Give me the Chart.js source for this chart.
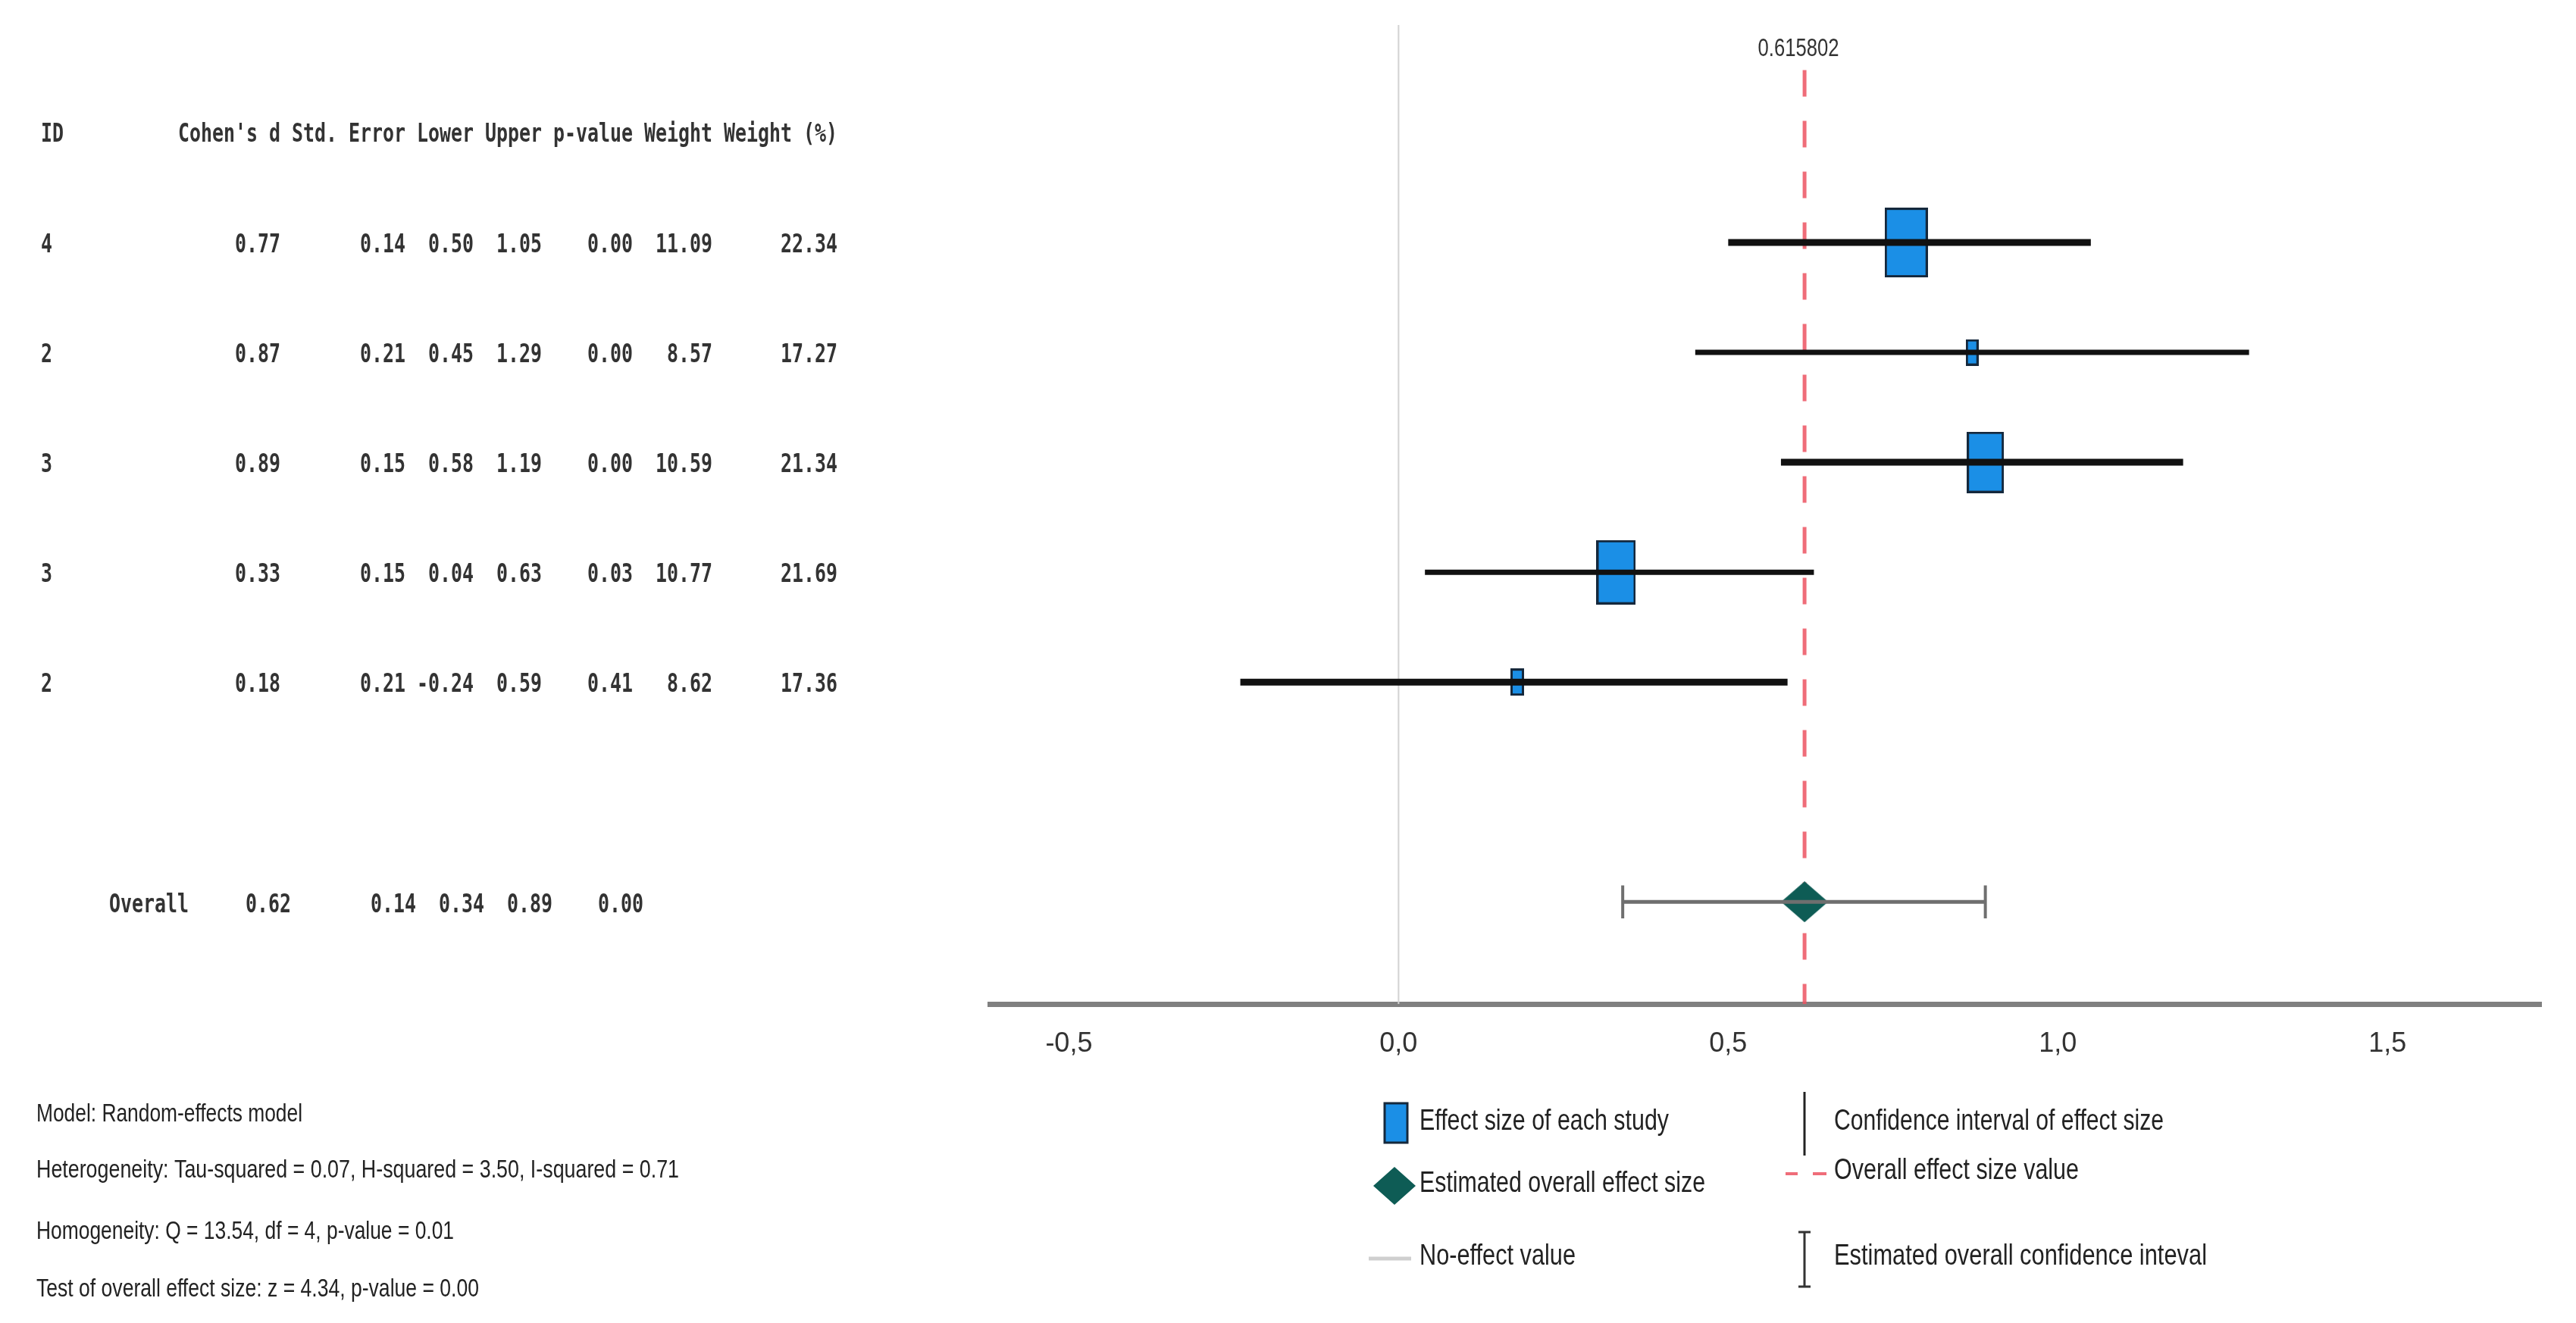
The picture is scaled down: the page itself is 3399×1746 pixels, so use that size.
<!DOCTYPE html>
<html>
<head>
<meta charset="utf-8">
<title>Forest plot</title>
<script src="https://cdn.jsdelivr.net/npm/chart.js@4.4.1/dist/chart.umd.min.js"></script>
<style>
    html, body { margin: 0; padding: 0; background: #fff; }
    #wrap { width: 3399px; height: 1746px; }
</style>
</head>
<body>
<div id="wrap"><canvas id="forest" width="3399" height="1746"></canvas></div>
<script>
// Study rows, top to bottom
const STUDY_IDS = ["4", "2", "3", "3", "2"];
const COHEN_D = [0.77, 0.87, 0.89, 0.33, 0.18];
const STD_ERROR = [0.14, 0.21, 0.15, 0.15, 0.21];
const LOWER = [0.50, 0.45, 0.58, 0.04, -0.24];
const UPPER = [1.05, 1.29, 1.19, 0.63, 0.59];
const P_VALUE = [0.00, 0.00, 0.00, 0.03, 0.41];
const WEIGHT = [11.09, 8.57, 10.59, 10.77, 8.62];
const WEIGHT_PCT = [22.34, 17.27, 21.34, 21.69, 17.36];

// Pooled estimate
const OVERALL_D = 0.615802;
const OVERALL_SE = 0.14;
const OVERALL_LOWER = 0.34;
const OVERALL_UPPER = 0.89;
const OVERALL_P = 0.00;

const X_TICKS = [-0.5, 0.0, 0.5, 1.0, 1.5];

const TABLE_HEADER = "Cohen's d Std. Error Lower Upper p-value Weight Weight (%)";
const NOTES = [
    "Model: Random-effects model",
    "Heterogeneity: Tau-squared = 0.07, H-squared = 3.50, I-squared = 0.71",
    "Homogeneity: Q = 13.54, df = 4, p-value = 0.01",
    "Test of overall effect size: z = 4.34, p-value = 0.00"
];
const LEGEND_LABELS = [
    "Effect size of each study",
    "Estimated overall effect size",
    "No-effect value",
    "Confidence interval of effect size",
    "Overall effect size value",
    "Estimated overall confidence inteval"
];

// layout / style constants
const Y_MIN = -0.98, Y_MAX = 7.93;
const OVERALL_ROW = 7;
const CI_WIDTHS = [9, 7, 9, 7, 9];
const BLUE = "#1b8fe6";
const TEAL = "#0e5c55";
const RED = "rgba(236, 84, 98, 0.85)";
const NARROW = "'Liberation Sans Narrow', 'Liberation Sans', Arial, sans-serif";
const MONO = "'DejaVu Sans Mono', 'Liberation Mono', monospace";

// study marker box grows with weight share
const wMin = Math.min(...WEIGHT_PCT), wMax = Math.max(...WEIGHT_PCT);
function studyBox(i) {
    const f = (WEIGHT_PCT[i] - wMin) / (wMax - wMin);
    const w = Math.round(17 + 40 * f), h = Math.round(35 + 57 * f);
    const c = document.createElement("canvas");
    c.width = w; c.height = h;
    const g = c.getContext("2d");
    g.fillStyle = BLUE;
    g.fillRect(1.5, 1.5, w - 3, h - 3);
    g.strokeStyle = "#15283c";
    g.lineWidth = 3;
    g.strokeRect(1.5, 1.5, w - 3, h - 3);
    return c;
}

function diamond(hw, hh) {
    const c = document.createElement("canvas");
    c.width = hw * 2; c.height = hh * 2;
    const g = c.getContext("2d");
    g.fillStyle = TEAL;
    g.beginPath();
    g.moveTo(hw, 0); g.lineTo(hw * 2, hh); g.lineTo(hw, hh * 2); g.lineTo(0, hh);
    g.closePath();
    g.fill();
    return c;
}

function drawText(ctx, text, px, py, opts) {
    ctx.save();
    ctx.font = opts.font;
    ctx.fillStyle = opts.color || "#222";
    ctx.textBaseline = "middle";
    ctx.textAlign = opts.align || "left";
    let sx = 1;
    if (opts.width) sx = opts.width / ctx.measureText(text).width;
    if (opts.charW) sx = opts.charW / ctx.measureText("0").width;
    ctx.translate(px, py);
    ctx.scale(sx, 1);
    ctx.fillText(text, 0, 0);
    ctx.restore();
}

const f2 = v => v.toFixed(2);

const tablePlugin = {
    id: "forestTable",
    afterDraw(chart) {
        const { ctx } = chart;
        const y = chart.scales.y, x = chart.scales.x;
        const mono = "bold 33px " + MONO;
        const cw = 15;
        const colRight = [370, 535, 625, 715, 835, 940, 1105];

        // header
        const hy = y.getPixelForValue(0) + 3;
        drawText(ctx, "ID", 54, hy, { font: mono, charW: cw, color: "#333" });
        drawText(ctx, TABLE_HEADER, 235, hy, { font: mono, charW: cw, color: "#333" });

        // study rows
        STUDY_IDS.forEach((id, i) => {
            const ry = y.getPixelForValue(i + 1) + 4;
            const cells = [f2(COHEN_D[i]), f2(STD_ERROR[i]), f2(LOWER[i]), f2(UPPER[i]),
                           f2(P_VALUE[i]), f2(WEIGHT[i]), f2(WEIGHT_PCT[i])];
            drawText(ctx, id, 54, ry, { font: mono, charW: cw, color: "#333" });
            cells.forEach((t, k) => drawText(ctx, t, colRight[k], ry, { font: mono, charW: cw, align: "right", color: "#333" }));
        });

        // overall row
        const oy = y.getPixelForValue(OVERALL_ROW) + 5;
        drawText(ctx, "Overall", 144, oy, { font: mono, charW: cw, color: "#333" });
        [f2(OVERALL_D), f2(OVERALL_SE), f2(OVERALL_LOWER), f2(OVERALL_UPPER), f2(OVERALL_P)]
            .forEach((t, k) => drawText(ctx, t, colRight[k] + 14, oy, { font: mono, charW: cw, align: "right", color: "#333" }));

        // pooled value label over the dashed line
        drawText(ctx, String(OVERALL_D), x.getPixelForValue(OVERALL_D) - 8, chart.chartArea.top + 32,
                 { font: "34px " + NARROW, width: 107, align: "center", color: "#333" });

        // model notes
        const noteY = [1471, 1545, 1626, 1702];
        const noteW = [351, 848, 551, 584];
        NOTES.forEach((t, k) => drawText(ctx, t, 48, noteY[k], { font: "34px " + NARROW, width: noteW[k], color: "#222" }));

        // legend
        ctx.save();
        ctx.fillStyle = BLUE;
        ctx.strokeStyle = "#15283c";
        ctx.lineWidth = 3;
        ctx.fillRect(1827, 1456, 30, 52);
        ctx.strokeRect(1827, 1456, 30, 52);
        ctx.drawImage(diamond(28, 25), 1812, 1540);
        ctx.strokeStyle = "#cfcfcf";
        ctx.lineWidth = 5;
        ctx.beginPath(); ctx.moveTo(1806, 1661); ctx.lineTo(1862, 1661); ctx.stroke();

        ctx.strokeStyle = "#222";
        ctx.lineWidth = 3;
        ctx.beginPath(); ctx.moveTo(2381, 1441); ctx.lineTo(2381, 1525); ctx.stroke();
        ctx.strokeStyle = RED;
        ctx.lineWidth = 4;
        ctx.beginPath();
        ctx.moveTo(2356, 1549); ctx.lineTo(2372, 1549);
        ctx.moveTo(2392, 1549); ctx.lineTo(2410, 1549);
        ctx.stroke();
        ctx.strokeStyle = "#333";
        ctx.lineWidth = 3;
        ctx.beginPath();
        ctx.moveTo(2381, 1626); ctx.lineTo(2381, 1698);
        ctx.moveTo(2373, 1626); ctx.lineTo(2389, 1626);
        ctx.moveTo(2373, 1698); ctx.lineTo(2389, 1698);
        ctx.stroke();
        ctx.restore();

        const legX = [1873, 1873, 1873, 2420, 2420, 2420];
        const legY = [1480, 1562, 1658, 1480, 1545, 1658];
        const legW = [329, 377, 206, 435, 323, 492];
        LEGEND_LABELS.forEach((t, k) => drawText(ctx, t, legX[k], legY[k], { font: "39px " + NARROW, width: legW[k], color: "#222" }));
    }
};

const lineSet = (data, color, width, extra) => Object.assign({
    data, showLine: true, borderColor: color, borderWidth: width,
    pointRadius: 0, fill: false
}, extra || {});

const CAP = 0.15;
const datasets = [
    // study confidence intervals (on top)
    ...COHEN_D.map((d, i) => lineSet([{ x: LOWER[i], y: i + 1 }, { x: UPPER[i], y: i + 1 }], "#111", CI_WIDTHS[i])),
    // pooled interval with caps
    lineSet([{ x: OVERALL_LOWER, y: OVERALL_ROW }, { x: OVERALL_UPPER, y: OVERALL_ROW }], "#6f6f6f", 5),
    lineSet([{ x: OVERALL_LOWER, y: OVERALL_ROW - CAP }, { x: OVERALL_LOWER, y: OVERALL_ROW + CAP }], "#6f6f6f", 4),
    lineSet([{ x: OVERALL_UPPER, y: OVERALL_ROW - CAP }, { x: OVERALL_UPPER, y: OVERALL_ROW + CAP }], "#6f6f6f", 4),
    // pooled estimate
    { data: [{ x: OVERALL_D, y: OVERALL_ROW }], pointStyle: diamond(31, 27), pointRadius: 10 },
    // study estimates
    { data: COHEN_D.map((d, i) => ({ x: d, y: i + 1 })), pointStyle: COHEN_D.map((d, i) => studyBox(i)), pointRadius: 10 },
    // overall effect line
    lineSet([{ x: OVERALL_D, y: -0.57 }, { x: OVERALL_D, y: Y_MAX }], RED, 5, { borderDash: [35, 32] }),
    // no-effect line
    lineSet([{ x: 0, y: Y_MIN }, { x: 0, y: Y_MAX }], "#d2d2d2", 2)
];

new Chart(document.getElementById("forest"), {
    type: "scatter",
    data: { datasets },
    options: {
        responsive: false,
        animation: false,
        events: [],
        layout: { padding: { left: 1306, right: 46, top: 33, bottom: 0 } },
        plugins: { legend: { display: false }, tooltip: { enabled: false } },
        scales: {
            x: {
                type: "linear",
                min: -0.62,
                max: 1.733,
                afterBuildTicks: s => { s.ticks = X_TICKS.map(v => ({ value: v })); },
                afterFit: s => { s.height = 421; },
                grid: { display: false, drawTicks: false },
                border: { display: true, color: "#808080", width: 7 },
                ticks: {
                    padding: 31,
                    color: "#333",
                    maxRotation: 0,
                    autoSkip: false,
                    font: { family: NARROW, size: 36 },
                    callback: v => Number(v).toFixed(1).replace(".", ",")
                }
            },
            y: {
                type: "linear",
                display: false,
                reverse: true,
                min: Y_MIN,
                max: Y_MAX
            }
        }
    },
    plugins: [tablePlugin]
});
</script>
</body>
</html>
